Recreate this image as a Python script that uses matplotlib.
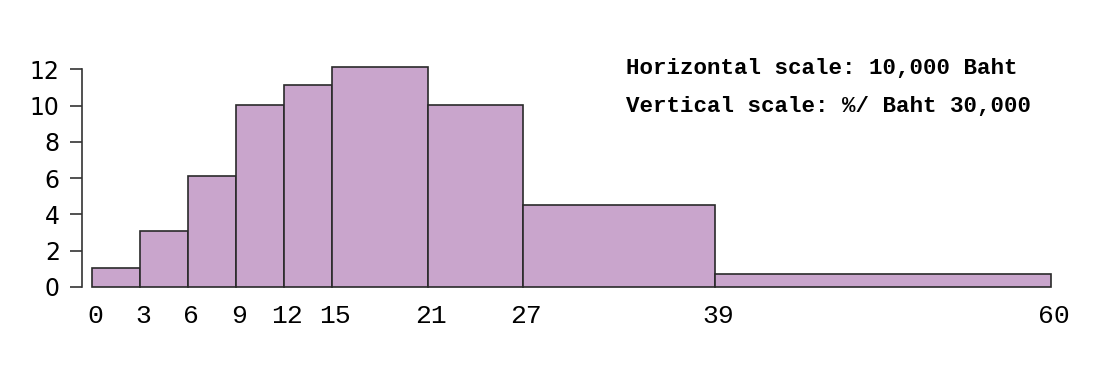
import numpy as np
import matplotlib.pyplot as plt
import matplotlib.transforms as mtransforms

# income bins (x 10,000 Baht) and density (% per 30,000 Baht)
edges = [0, 3, 6, 9, 12, 15, 21, 27, 39, 60]
heights = [1.05, 3.1, 6.1, 10.05, 11.15, 12.15, 10.05, 4.5, 0.7]
yticks = [0, 2, 4, 6, 8, 10, 12]
notes = ["Horizontal scale: 10,000 Baht", "Vertical scale: %/ Baht 30,000"]

W, H = 1096, 372
fig = plt.figure(figsize=(W / 100, H / 100), dpi=100)
# axes placed in pixels: x=0 at 92px, 1 unit = 15.98px; y=0 at 287px, 1 unit = 18.14px
left, right, top, bottom = 82, 1075, 58, 287
ax = fig.add_axes([left / W, (H - bottom) / H, (right - left) / W, (bottom - top) / H])
ax.set_xlim(-(92 - left) / 15.98, (right - 92) / 15.98)
ax.set_ylim(0, (bottom - top) / 18.14)

lefts = np.array(edges[:-1])
widths = np.diff(edges)
bars = ax.bar(lefts, heights, width=widths, align="edge",
              color="#c9a5cc", edgecolor="#2a2a2a", linewidth=1.2)
for b in bars:
    b.set_clip_on(False)

for s in ["top", "right", "bottom"]:
    ax.spines[s].set_visible(False)
ax.spines["left"].set_bounds(0, 12)
ax.spines["left"].set_color("#333333")
ax.spines["left"].set_linewidth(1.2)

ax.set_yticks(yticks)
ax.set_yticklabels([str(v) for v in yticks], fontfamily="DejaVu Sans", fontsize=17)
ax.tick_params(axis="y", length=9, width=1.2, color="#333333", pad=7)

ax.set_xticks(edges)
ax.set_xticklabels([str(v) for v in edges], fontfamily="Liberation Mono", fontsize=19)
ax.tick_params(axis="x", length=0, pad=12)
shift = mtransforms.ScaledTranslation(3 / 100, 0, fig.dpi_scale_trans)
for lbl in ax.get_xticklabels():
    lbl.set_transform(lbl.get_transform() + shift)

for i, t in enumerate(notes):
    fig.text(626 / W, 1 - (68 + 39 * i) / H, t, fontfamily="Liberation Mono",
             fontweight="bold", fontsize=16.2, va="center", ha="left")

fig.savefig("out.png", dpi=100, facecolor="white")
